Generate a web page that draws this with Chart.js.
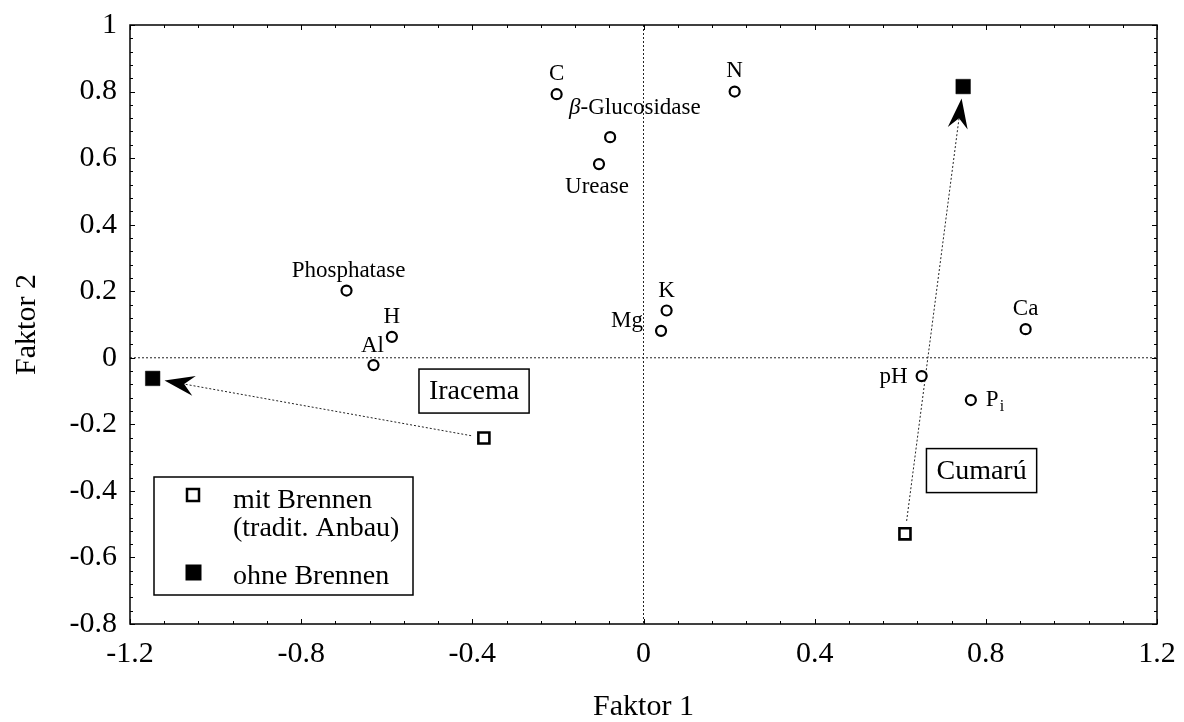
<!DOCTYPE html>
<html>
<head>
<meta charset="utf-8">
<script src="https://cdn.jsdelivr.net/npm/chart.js@4/dist/chart.umd.min.js"></script>
<style>
  html, body { margin:0; padding:0; background:#fff; }
  #wrap { width:1184px; height:722px; }
</style>
</head>
<body>
<div id="wrap"><canvas id="chart" width="1184" height="722"></canvas></div>
<script>
/* ==== Data ==== */
const varNames = ['C', 'N', 'β-Glucosidase', 'Urease', 'Phosphatase', 'H', 'Al', 'Mg', 'K', 'Ca', 'pH', 'Pi'];
const varX = [-0.203, 0.213, -0.078, -0.104, -0.694, -0.588, -0.631, 0.041, 0.054, 0.893, 0.650, 0.765];
const varY = [0.792, 0.800, 0.663, 0.582, 0.202, 0.063, -0.022, 0.081, 0.142, 0.086, -0.055, -0.127];

const sites = ['Iracema', 'Cumarú'];
const mitX = [-0.373, 0.611];   // mit Brennen (tradit. Anbau)
const mitY = [-0.241, -0.529];
const ohneX = [-1.147, 0.747];  // ohne Brennen
const ohneY = [-0.062, 0.815];

const xTicks = [-1.2, -0.8, -0.4, 0, 0.4, 0.8, 1.2];
const yTicks = [-0.8, -0.6, -0.4, -0.2, 0, 0.2, 0.4, 0.6, 0.8, 1];

/* ==== Label placement (pixel offsets from the point, baseline) ==== */
const labelPos = {
  'C':             { dx: 0,   dy: -14, align: 'center' },
  'N':             { dx: 0,   dy: -15, align: 'center' },
  'β-Glucosidase': { dx: -41, dy: -23, align: 'left' },
  'Urease':        { dx: -2,  dy: 29,  align: 'center' },
  'Phosphatase':   { dx: 2,   dy: -14, align: 'center' },
  'H':             { dx: 0,   dy: -14, align: 'center' },
  'Al':            { dx: -1,  dy: -13, align: 'center' },
  'Mg':            { dx: -18, dy: -4,  align: 'right' },
  'K':             { dx: 0,   dy: -14, align: 'center' },
  'Ca':            { dx: 0,   dy: -14, align: 'center' },
  'pH':            { dx: -14, dy: 7,   align: 'right' },
  'Pi':            { dx: 15,  dy: 6,   align: 'left' }
};
const siteBoxPos = { 'Iracema': { x: -0.396, y: -0.100 }, 'Cumarú': { x: 0.790, y: -0.339 } };

const FONT = "'Liberation Serif', 'Times New Roman', serif";
Chart.defaults.font.family = FONT;
Chart.defaults.color = '#000';

const toPts = (xs, ys) => xs.map((x, i) => ({ x: x, y: ys[i] }));
const fmt = v => String(+Number(v).toFixed(1));

/* ==== Decorations ==== */
function dotted(ctx, x1, y1, x2, y2){
  ctx.save();
  ctx.strokeStyle = '#222';
  ctx.lineWidth = 1;
  ctx.setLineDash([2, 2]);
  ctx.beginPath(); ctx.moveTo(x1, y1); ctx.lineTo(x2, y2); ctx.stroke();
  ctx.restore();
}

function arrow(ctx, x0, y0, x1, y1){
  const len = Math.hypot(x1 - x0, y1 - y0);
  const dx = (x1 - x0) / len, dy = (y1 - y0) / len;
  const nx = -dy, ny = dx;
  const sx = x0 + dx * 13, sy = y0 + dy * 13;
  const tx = x1 - dx * 12, ty = y1 - dy * 12;
  dotted(ctx, sx, sy, tx - dx * 20, ty - dy * 20);
  ctx.save();
  ctx.fillStyle = '#000';
  ctx.beginPath();
  ctx.moveTo(tx, ty);
  ctx.lineTo(tx - dx * 30 + nx * 10, ty - dy * 30 + ny * 10);
  ctx.lineTo(tx - dx * 20, ty - dy * 20);
  ctx.lineTo(tx - dx * 30 - nx * 10, ty - dy * 30 - ny * 10);
  ctx.closePath();
  ctx.fill();
  ctx.restore();
}

const decor = {
  id: 'decor',
  beforeDatasetsDraw(chart){
    const { ctx, chartArea: a, scales: { x, y } } = chart;
    // zero lines
    dotted(ctx, x.getPixelForValue(0), a.top, x.getPixelForValue(0), a.bottom);
    dotted(ctx, a.left, y.getPixelForValue(0), a.right, y.getPixelForValue(0));
    // arrows
    sites.forEach((s, i) => {
      arrow(ctx, x.getPixelForValue(mitX[i]), y.getPixelForValue(mitY[i]),
                 x.getPixelForValue(ohneX[i]), y.getPixelForValue(ohneY[i]));
    });
    // frame and inward ticks
    ctx.save();
    ctx.strokeStyle = '#000';
    ctx.lineWidth = 1;
    ctx.beginPath();
    for (let v = -1.2; v <= 1.2001; v += 0.08) {
      const px = Math.round(x.getPixelForValue(v)) + 0.5;
      const major = Math.abs(v / 0.4 - Math.round(v / 0.4)) < 1e-6;
      const t = major ? 5 : 3;
      ctx.moveTo(px, a.bottom); ctx.lineTo(px, a.bottom - t);
      ctx.moveTo(px, a.top); ctx.lineTo(px, a.top + t);
    }
    for (let v = -0.8; v <= 1.0001; v += 0.04) {
      const py = Math.round(y.getPixelForValue(v)) + 0.5;
      const major = Math.abs(v / 0.2 - Math.round(v / 0.2)) < 1e-6;
      const t = major ? 5 : 3;
      ctx.moveTo(a.left, py); ctx.lineTo(a.left + t, py);
      ctx.moveTo(a.right, py); ctx.lineTo(a.right - t, py);
    }
    ctx.stroke();
    ctx.lineWidth = 1.5;
    ctx.strokeRect(a.left, a.top, a.right - a.left, a.bottom - a.top);
    ctx.restore();
  },
  afterDatasetsDraw(chart){
    const { ctx, scales: { x, y } } = chart;
    ctx.save();
    ctx.fillStyle = '#000';
    ctx.textBaseline = 'alphabetic';
    // variable labels
    varNames.forEach((n, i) => {
      const p = labelPos[n];
      const px = x.getPixelForValue(varX[i]) + p.dx;
      const py = y.getPixelForValue(varY[i]) + p.dy;
      ctx.font = '23px ' + FONT;
      if (n === 'β-Glucosidase') {
        ctx.textAlign = 'left';
        ctx.font = 'italic 23px ' + FONT;
        ctx.fillText('β', px, py);
        const w = ctx.measureText('β').width;
        ctx.font = '23px ' + FONT;
        ctx.fillText('-Glucosidase', px + w, py);
      } else if (n === 'Pi') {
        ctx.textAlign = 'left';
        ctx.fillText('P', px, py);
        const w = ctx.measureText('P').width;
        ctx.font = '16px ' + FONT;
        ctx.fillText('i', px + w + 1, py + 5);
      } else {
        ctx.textAlign = p.align;
        ctx.fillText(n, px, py);
      }
    });
    // site boxes
    ctx.font = '28px ' + FONT;
    ctx.textAlign = 'center';
    ctx.textBaseline = 'middle';
    ctx.lineWidth = 1.5;
    ctx.strokeStyle = '#000';
    sites.forEach(s => {
      const cx = x.getPixelForValue(siteBoxPos[s].x), cy = y.getPixelForValue(siteBoxPos[s].y);
      const w = ctx.measureText(s).width + 20, h = 44;
      ctx.fillStyle = '#fff';
      ctx.fillRect(cx - w / 2, cy - h / 2, w, h);
      ctx.strokeRect(cx - w / 2, cy - h / 2, w, h);
      ctx.fillStyle = '#000';
      ctx.fillText(s, cx, cy + 1);
    });
    // legend
    ctx.fillStyle = '#fff';
    ctx.fillRect(154, 477, 259, 118);
    ctx.strokeRect(154, 477, 259, 118);
    ctx.strokeStyle = '#000';
    ctx.lineWidth = 2.5;
    ctx.strokeRect(187, 489, 12, 12);
    ctx.fillStyle = '#000';
    ctx.fillRect(185.5, 564.5, 16, 16);
    ctx.textAlign = 'left';
    ctx.textBaseline = 'alphabetic';
    ctx.font = '28px ' + FONT;
    ctx.fillText('mit Brennen', 233, 508);
    ctx.fillText('(tradit. Anbau)', 233, 536);
    ctx.fillText('ohne Brennen', 233, 584);
    ctx.restore();
  }
};

/* ==== Chart ==== */
const ctx = document.getElementById('chart').getContext('2d');
new Chart(ctx, {
  type: 'scatter',
  data: {
    datasets: [
      { label: 'Variablen', data: toPts(varX, varY), pointStyle: 'circle', pointRadius: 5,
        borderWidth: 2.2, borderColor: '#000', backgroundColor: '#fff' },
      { label: 'mit Brennen', data: toPts(mitX, mitY), pointStyle: 'rect', pointRadius: 7.8,
        borderWidth: 2.6, borderColor: '#000', backgroundColor: '#fff' },
      { label: 'ohne Brennen', data: toPts(ohneX, ohneY), pointStyle: 'rect', pointRadius: 10.3,
        borderWidth: 0.5, borderColor: '#000', backgroundColor: '#000' }
    ]
  },
  options: {
    responsive: false,
    animation: false,
    events: [],
    layout: { padding: { top: 25, right: 27, left: 0, bottom: 0 } },
    plugins: { legend: { display: false }, tooltip: { enabled: false } },
    scales: {
      x: {
        type: 'linear', min: -1.2, max: 1.2,
        afterBuildTicks: s => { s.ticks = xTicks.map(v => ({ value: v })); },
        afterFit: s => { s.height = 98; s.paddingLeft = 0; s.paddingRight = 0; },
        grid: { display: false, drawTicks: false },
        border: { display: false },
        ticks: { padding: 12, font: { size: 30, lineHeight: 1.2 }, color: '#000', maxRotation: 0, callback: fmt },
        title: { display: true, text: 'Faktor 1', font: { size: 30, lineHeight: 1 }, color: '#000', padding: 0 }
      },
      y: {
        type: 'linear', min: -0.8, max: 1,
        afterBuildTicks: s => { s.ticks = yTicks.map(v => ({ value: v })); },
        afterFit: s => { s.width = 130; s.paddingTop = 0; s.paddingBottom = 0; },
        grid: { display: false, drawTicks: false },
        border: { display: false },
        ticks: { padding: 13, font: { size: 30, lineHeight: 1.2 }, color: '#000', callback: fmt },
        title: { display: true, text: 'Faktor 2', font: { size: 30, lineHeight: 1 }, color: '#000', padding: { top: 12, bottom: 0 } }
      }
    }
  },
  plugins: [decor]
});
</script>
</body>
</html>
